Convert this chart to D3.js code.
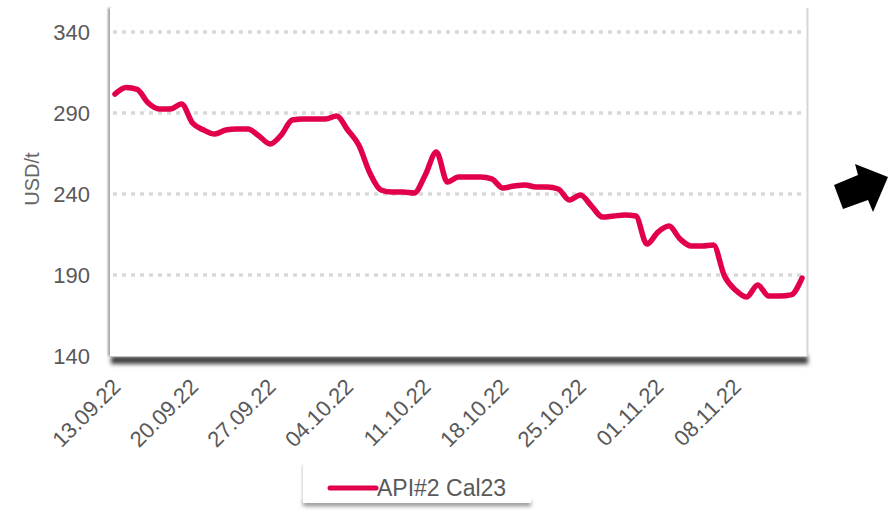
<!DOCTYPE html>
<html>
<head>
<meta charset="utf-8">
<script src="https://cdn.jsdelivr.net/npm/d3@7"></script>
<style>
  html, body { margin: 0; padding: 0; background: #fff; }
  svg { display: block; font-family: "Liberation Sans", Arial, sans-serif; }
</style>
</head>
<body>
<div id="chart"></div>
<script>
// daily values, 13.09.22 .. 14.11.22
const startDate = "2022-09-13";
const endDate = "2022-11-14";
const prices = [
  301.7, 305.8, 304.6, 296.2, 292.5, 292.5, 295.6, 283.8, 279.5, 277.0,
  279.5, 280.1, 280.1, 275.8, 270.9, 276.4, 285.7, 286.3, 286.3, 286.3,
  288.1, 279.5, 270.2, 253.0, 242.5, 241.2, 241.2, 240.6, 251.7, 265.9,
  247.4, 250.5, 250.5, 250.5, 249.3, 243.7, 244.9, 245.6, 244.3, 244.3,
  243.1, 236.3, 239.4, 232.6, 225.8, 226.4, 227.0, 226.4, 209.1, 216.5,
  220.2, 212.2, 207.9, 207.9, 208.5, 189.4, 180.7, 176.4, 183.8, 177.0,
  177.0, 177.7, 188.1
];
const seriesName = "API#2 Cal23";
const yTicks = [140, 190, 240, 290, 340];
const xTickLabels = ["13.09.22", "20.09.22", "27.09.22", "04.10.22", "11.10.22",
                     "18.10.22", "25.10.22", "01.11.22", "08.11.22"];
const yTitle = "USD/t";

const W = 894, H = 513;
const plot = { left: 110, right: 807, top: 8, bottom: 356 };
const lineColor = "#e2004a";
const textColor = "#595959";

const parseDay = d3.timeParse("%Y-%m-%d");
const parseTick = d3.timeParse("%d.%m.%y");
const days = d3.timeDay.range(parseDay(startDate), d3.timeDay.offset(parseDay(endDate), 1));
const data = days.map((d, i) => ({ date: d, value: prices[i] }));

const x = d3.scaleTime()
    .domain([parseDay(startDate), parseDay(endDate)])
    .range([115, 802]);
const y = d3.scaleLinear()
    .domain([140, 340])
    .range([356, 32]);

const svg = d3.select("#chart").append("svg")
    .attr("width", W)
    .attr("height", H);

const defs = svg.append("defs");
defs.append("filter").attr("id", "blur").attr("x", "-10%").attr("y", "-200%")
    .attr("width", "120%").attr("height", "500%")
  .append("feGaussianBlur").attr("stdDeviation", 2);
defs.append("filter").attr("id", "blurSide").attr("x", "-200%").attr("y", "-10%")
    .attr("width", "500%").attr("height", "120%")
  .append("feGaussianBlur").attr("stdDeviation", 0.8);

// plot frame with shadow
svg.append("rect")
    .attr("x", plot.left + 1).attr("y", plot.bottom)
    .attr("width", plot.right - plot.left).attr("height", 8)
    .attr("fill", "#404040")
    .attr("filter", "url(#blur)");
svg.append("rect")
    .attr("x", plot.left - 2).attr("y", plot.top)
    .attr("width", 3).attr("height", plot.bottom - plot.top)
    .attr("fill", "#999")
    .attr("filter", "url(#blurSide)");
svg.append("rect")
    .attr("x", plot.left).attr("y", plot.top)
    .attr("width", plot.right - plot.left).attr("height", plot.bottom - plot.top)
    .attr("fill", "#fff");
svg.append("line")
    .attr("x1", plot.right + 0.5).attr("x2", plot.right + 0.5)
    .attr("y1", plot.top).attr("y2", plot.bottom)
    .attr("stroke", "#d6d6d6").attr("stroke-width", 2);
svg.append("line")
    .attr("x1", plot.left).attr("x2", plot.right)
    .attr("y1", plot.bottom + 0.5).attr("y2", plot.bottom + 0.5)
    .attr("stroke", "#c4c4c4").attr("stroke-width", 1);

// gridlines
svg.append("g")
  .selectAll("line")
  .data(yTicks.filter(t => t > 140))
  .join("line")
    .attr("x1", plot.left + 3).attr("x2", plot.right - 2)
    .attr("y1", d => y(d)).attr("y2", d => y(d))
    .attr("stroke", "#d9d9d9")
    .attr("stroke-width", 3.5)
    .attr("stroke-dasharray", "4,5");

// y axis labels
svg.append("g")
  .selectAll("text")
  .data(yTicks)
  .join("text")
    .attr("x", 90)
    .attr("y", d => y(d))
    .attr("dy", "0.36em")
    .attr("text-anchor", "end")
    .attr("fill", textColor)
    .style("font-size", "22px")
    .text(d => d);

svg.append("text")
    .attr("transform", "translate(39,179) rotate(-90)")
    .attr("text-anchor", "middle")
    .attr("fill", "#666")
    .style("font-size", "20px")
    .text(yTitle);

// x axis labels
svg.append("g")
  .selectAll("text")
  .data(xTickLabels)
  .join("text")
    .attr("transform", d => `translate(${x(parseTick(d)) + 7},388) rotate(-45)`)
    .attr("text-anchor", "end")
    .attr("fill", textColor)
    .style("font-size", "22px")
    .text(d => d);

// line
svg.append("path")
    .datum(data)
    .attr("fill", "none")
    .attr("stroke", lineColor)
    .attr("stroke-width", 5.5)
    .attr("stroke-linejoin", "round")
    .attr("stroke-linecap", "round")
    .attr("d", d3.line()
        .x(d => x(d.date))
        .y(d => y(d.value))
        .curve(d3.curveMonotoneX));

// legend
const legend = svg.append("g").attr("transform", "translate(303,465)");
legend.append("rect")
    .attr("x", 0).attr("y", 36).attr("width", 228).attr("height", 5)
    .attr("fill", "#888").attr("filter", "url(#blur)");
legend.append("rect")
    .attr("x", -1).attr("y", 0).attr("width", 2).attr("height", 39)
    .attr("fill", "#ccc").attr("filter", "url(#blurSide)");
legend.append("rect")
    .attr("x", 0).attr("y", 0).attr("width", 228).attr("height", 38)
    .attr("fill", "#fff");
legend.append("line")
    .attr("x1", 27).attr("x2", 73).attr("y1", 23).attr("y2", 23)
    .attr("stroke", lineColor).attr("stroke-width", 5)
    .attr("stroke-linecap", "round");
legend.append("text")
    .attr("x", 74).attr("y", 23).attr("dy", "0.36em")
    .attr("fill", textColor)
    .style("font-size", "23px")
    .text(seriesName);

// arrow decoration on the right
svg.append("path")
    .attr("d", "M834,185 L843,209 L868,200 L873,212 L888,177 L855,164 L858,175 Z")
    .attr("fill", "#000");
</script>
</body>
</html>
